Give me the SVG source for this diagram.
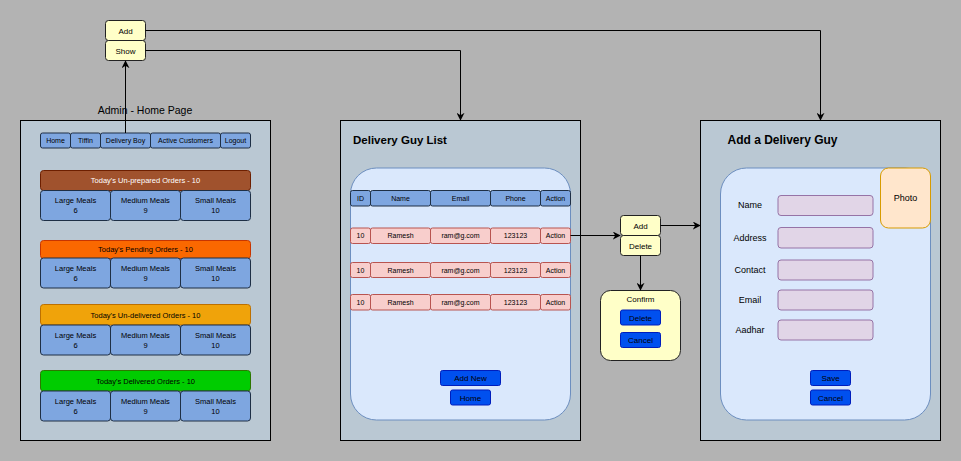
<svg xmlns="http://www.w3.org/2000/svg" width="961" height="461" viewBox="0 0 961 461">
<style>
text{font-family:"Liberation Sans",Arial,sans-serif;fill:#000}
.t7{font-size:7px;text-anchor:middle}
.t75{font-size:7.5px;text-anchor:middle}
.t8{font-size:8px;text-anchor:middle}
.t9{font-size:9px;text-anchor:middle}
.title{font-size:12px;font-weight:bold}
.panel{fill:#bac8d3;stroke:#000;stroke-width:1}
.inner{fill:#dae8fc;stroke:#6c8ebf;stroke-width:1}
.mb{fill:#7ea6e0;stroke:#1e2f45;stroke-width:1}
.row{fill:#f8cecc;stroke:#b85450;stroke-width:1}
.inp{fill:#e1d5e7;stroke:#9673a6;stroke-width:1}
.bb{fill:#0050ef;stroke:#001dbc;stroke-width:1}
.yb{fill:#ffffc8;stroke:#222;stroke-width:1}
.conn{fill:none;stroke:#000;stroke-width:1}
</style>
<defs>
<marker id="arr" viewBox="0 0 10 10" refX="9" refY="5" markerWidth="8" markerHeight="8" markerUnits="userSpaceOnUse" orient="auto">
<path d="M0,0 L10,5 L0,10 L3,5 Z" fill="#000"/>
</marker>
</defs>
<rect x="0" y="0" width="961" height="461" fill="#b3b3b3"/>

<g id="admin-home">
<text x="145" y="113.5" style="font-size:10.5px;text-anchor:middle">Admin - Home Page</text>
<rect class="panel" x="20.5" y="120.5" width="250" height="320"/>
<g id="menu">
<rect class="mb" x="40.5" y="133" width="30" height="15" rx="2"/>
<rect class="mb" x="70.5" y="133" width="30" height="15" rx="2"/>
<rect class="mb" x="100.5" y="133" width="50" height="15" rx="2"/>
<rect class="mb" x="150.5" y="133" width="70" height="15" rx="2"/>
<rect class="mb" x="220.5" y="133" width="30" height="15" rx="2"/>
<text class="t7" x="55.5" y="143">Home</text>
<text class="t7" x="85.5" y="143">Tiffin</text>
<text class="t7" x="125.5" y="143">Delivery Boy</text>
<text class="t7" x="185.5" y="143">Active Customers</text>
<text class="t7" x="235.5" y="143">Logout</text>
</g>
<g id="unprepared">
<rect x="40.5" y="170.5" width="210" height="20" rx="3" fill="#a0522d" stroke="#6d1f00"/>
<text class="t75" x="145.5" y="183" style="fill:#fff">Today's Un-prepared Orders - 10</text>
<rect class="mb" x="40.5" y="190.5" width="70" height="30" rx="3"/>
<rect class="mb" x="110.5" y="190.5" width="70" height="30" rx="3"/>
<rect class="mb" x="180.5" y="190.5" width="70" height="30" rx="3"/>
<text class="t75" x="75.5" y="203">Large Meals</text><text class="t75" x="75.5" y="213">6</text>
<text class="t75" x="145.5" y="203">Medium Meals</text><text class="t75" x="145.5" y="213">9</text>
<text class="t75" x="215.5" y="203">Small Meals</text><text class="t75" x="215.5" y="213">10</text>
</g>
<g id="pending">
<rect x="40.5" y="240.5" width="210" height="18" rx="3" fill="#fa6800" stroke="#c73500"/>
<text class="t75" x="145.5" y="252">Today's Pending Orders - 10</text>
<rect class="mb" x="40.5" y="258" width="70" height="30" rx="3"/>
<rect class="mb" x="110.5" y="258" width="70" height="30" rx="3"/>
<rect class="mb" x="180.5" y="258" width="70" height="30" rx="3"/>
<text class="t75" x="75.5" y="270.5">Large Meals</text><text class="t75" x="75.5" y="280.5">6</text>
<text class="t75" x="145.5" y="270.5">Medium Meals</text><text class="t75" x="145.5" y="280.5">9</text>
<text class="t75" x="215.5" y="270.5">Small Meals</text><text class="t75" x="215.5" y="280.5">10</text>
</g>
<g id="undelivered">
<rect x="40.5" y="304.5" width="210" height="20.5" rx="3" fill="#f0a30a" stroke="#bd7000"/>
<text class="t75" x="145.5" y="317.5">Today's Un-delivered Orders - 10</text>
<rect class="mb" x="40.5" y="325" width="70" height="30" rx="3"/>
<rect class="mb" x="110.5" y="325" width="70" height="30" rx="3"/>
<rect class="mb" x="180.5" y="325" width="70" height="30" rx="3"/>
<text class="t75" x="75.5" y="337.5">Large Meals</text><text class="t75" x="75.5" y="347.5">6</text>
<text class="t75" x="145.5" y="337.5">Medium Meals</text><text class="t75" x="145.5" y="347.5">9</text>
<text class="t75" x="215.5" y="337.5">Small Meals</text><text class="t75" x="215.5" y="347.5">10</text>
</g>
<g id="delivered">
<rect x="40.5" y="370.5" width="210" height="20.5" rx="3" fill="#00cc00" stroke="#2d7600"/>
<text class="t75" x="145.5" y="383.5">Today's Delivered Orders - 10</text>
<rect class="mb" x="40.5" y="391" width="70" height="30" rx="3"/>
<rect class="mb" x="110.5" y="391" width="70" height="30" rx="3"/>
<rect class="mb" x="180.5" y="391" width="70" height="30" rx="3"/>
<text class="t75" x="75.5" y="403.5">Large Meals</text><text class="t75" x="75.5" y="413.5">6</text>
<text class="t75" x="145.5" y="403.5">Medium Meals</text><text class="t75" x="145.5" y="413.5">9</text>
<text class="t75" x="215.5" y="403.5">Small Meals</text><text class="t75" x="215.5" y="413.5">10</text>
</g>
</g>

<g id="add-show">
<rect class="yb" x="105.5" y="20.5" width="40" height="20" rx="3"/>
<rect class="yb" x="105.5" y="40.5" width="40" height="20" rx="3"/>
<text class="t8" x="125.5" y="33.5">Add</text>
<text class="t8" x="125.5" y="53.5">Show</text>
</g>

<g id="delivery-guy-list">
<rect class="panel" x="340.5" y="120.5" width="240" height="320"/>
<text class="title" x="353" y="144" style="font-size:11.5px">Delivery Guy List</text>
<rect class="inner" x="350.5" y="168" width="220" height="252" rx="26"/>
<g id="table-header">
<rect class="mb" x="350.5" y="190.5" width="20" height="15.5" rx="2"/>
<rect class="mb" x="370.5" y="190.5" width="60" height="15.5" rx="2"/>
<rect class="mb" x="430.5" y="190.5" width="60" height="15.5" rx="2"/>
<rect class="mb" x="490.5" y="190.5" width="50" height="15.5" rx="2"/>
<rect class="mb" x="540.5" y="190.5" width="30" height="15.5" rx="2"/>
<text class="t7" x="360.5" y="200.5">ID</text>
<text class="t7" x="400.5" y="200.5">Name</text>
<text class="t7" x="460.5" y="200.5">Email</text>
<text class="t7" x="515.5" y="200.5">Phone</text>
<text class="t7" x="555.5" y="200.5">Action</text>
</g>
<g id="row1">
<rect class="row" x="350.5" y="228" width="20" height="15.5" rx="2"/>
<rect class="row" x="370.5" y="228" width="60" height="15.5" rx="2"/>
<rect class="row" x="430.5" y="228" width="60" height="15.5" rx="2"/>
<rect class="row" x="490.5" y="228" width="50" height="15.5" rx="2"/>
<rect class="row" x="540.5" y="228" width="30" height="15.5" rx="2"/>
<text class="t7" x="360.5" y="238">10</text>
<text class="t7" x="400.5" y="238">Ramesh</text>
<text class="t7" x="460.5" y="238">ram@g.com</text>
<text class="t7" x="515.5" y="238">123123</text>
<text class="t7" x="555.5" y="238">Action</text>
</g>
<g id="row2">
<rect class="row" x="350.5" y="262.5" width="20" height="15" rx="2"/>
<rect class="row" x="370.5" y="262.5" width="60" height="15" rx="2"/>
<rect class="row" x="430.5" y="262.5" width="60" height="15" rx="2"/>
<rect class="row" x="490.5" y="262.5" width="50" height="15" rx="2"/>
<rect class="row" x="540.5" y="262.5" width="30" height="15" rx="2"/>
<text class="t7" x="360.5" y="272.5">10</text>
<text class="t7" x="400.5" y="272.5">Ramesh</text>
<text class="t7" x="460.5" y="272.5">ram@g.com</text>
<text class="t7" x="515.5" y="272.5">123123</text>
<text class="t7" x="555.5" y="272.5">Action</text>
</g>
<g id="row3">
<rect class="row" x="350.5" y="294.5" width="20" height="15.5" rx="2"/>
<rect class="row" x="370.5" y="294.5" width="60" height="15.5" rx="2"/>
<rect class="row" x="430.5" y="294.5" width="60" height="15.5" rx="2"/>
<rect class="row" x="490.5" y="294.5" width="50" height="15.5" rx="2"/>
<rect class="row" x="540.5" y="294.5" width="30" height="15.5" rx="2"/>
<text class="t7" x="360.5" y="304.5">10</text>
<text class="t7" x="400.5" y="304.5">Ramesh</text>
<text class="t7" x="460.5" y="304.5">ram@g.com</text>
<text class="t7" x="515.5" y="304.5">123123</text>
<text class="t7" x="555.5" y="304.5">Action</text>
</g>
<rect class="bb" x="440.5" y="370.5" width="60" height="15" rx="2"/>
<text class="t8" x="470.5" y="381">Add New</text>
<rect class="bb" x="450.5" y="390" width="40" height="15" rx="2"/>
<text class="t8" x="470.5" y="400.5">Home</text>
</g>

<g id="add-delete">
<rect class="yb" x="620.5" y="215.5" width="40" height="20" rx="3"/>
<rect class="yb" x="620.5" y="235.5" width="40" height="20" rx="3"/>
<text class="t8" x="640.5" y="228.5">Add</text>
<text class="t8" x="640.5" y="248.5">Delete</text>
</g>

<g id="confirm">
<rect class="yb" x="600.5" y="290.5" width="80" height="70" rx="10"/>
<text class="t8" x="640.5" y="302">Confirm</text>
<rect class="bb" x="620.5" y="310" width="40" height="15" rx="2"/>
<text class="t8" x="640.5" y="320.5">Delete</text>
<rect class="bb" x="620.5" y="332.5" width="40" height="15" rx="2"/>
<text class="t8" x="640.5" y="343">Cancel</text>
</g>

<g id="add-delivery-guy">
<rect class="panel" x="700.5" y="120.5" width="240" height="320"/>
<text class="title" x="727.5" y="144">Add a Delivery Guy</text>
<rect class="inner" x="720.5" y="168" width="210" height="252" rx="26"/>
<rect x="880.5" y="168" width="50" height="60" rx="8" fill="#ffe6cc" stroke="#d79b00"/>
<text class="t9" x="905.5" y="201">Photo</text>
<text class="t9" x="750" y="208">Name</text>
<text class="t9" x="750" y="241">Address</text>
<text class="t9" x="750" y="273">Contact</text>
<text class="t9" x="750" y="303">Email</text>
<text class="t9" x="750" y="333">Aadhar</text>
<rect class="inp" x="778" y="195.5" width="95" height="20" rx="3"/>
<rect class="inp" x="778" y="227.5" width="95" height="20.5" rx="3"/>
<rect class="inp" x="778" y="260" width="95" height="20" rx="3"/>
<rect class="inp" x="778" y="290" width="95" height="20" rx="3"/>
<rect class="inp" x="778" y="320" width="95" height="20" rx="3"/>
<rect class="bb" x="810.5" y="370.5" width="40" height="15" rx="2"/>
<text class="t8" x="830.5" y="381">Save</text>
<rect class="bb" x="810.5" y="390" width="40" height="15" rx="2"/>
<text class="t8" x="830.5" y="400.5">Cancel</text>
</g>

<g id="connectors">
<path class="conn" d="M125.5,133 L125.5,61" marker-end="url(#arr)"/>
<path class="conn" d="M145.5,30.5 L820.5,30.5 L820.5,120" marker-end="url(#arr)"/>
<path class="conn" d="M145.5,50.5 L460.5,50.5 L460.5,120" marker-end="url(#arr)"/>
<path class="conn" d="M570.5,235.5 L620,235.5" marker-end="url(#arr)"/>
<path class="conn" d="M660.5,225.5 L700,225.5" marker-end="url(#arr)"/>
<path class="conn" d="M640.5,255.5 L640.5,290" marker-end="url(#arr)"/>
</g>
</svg>
